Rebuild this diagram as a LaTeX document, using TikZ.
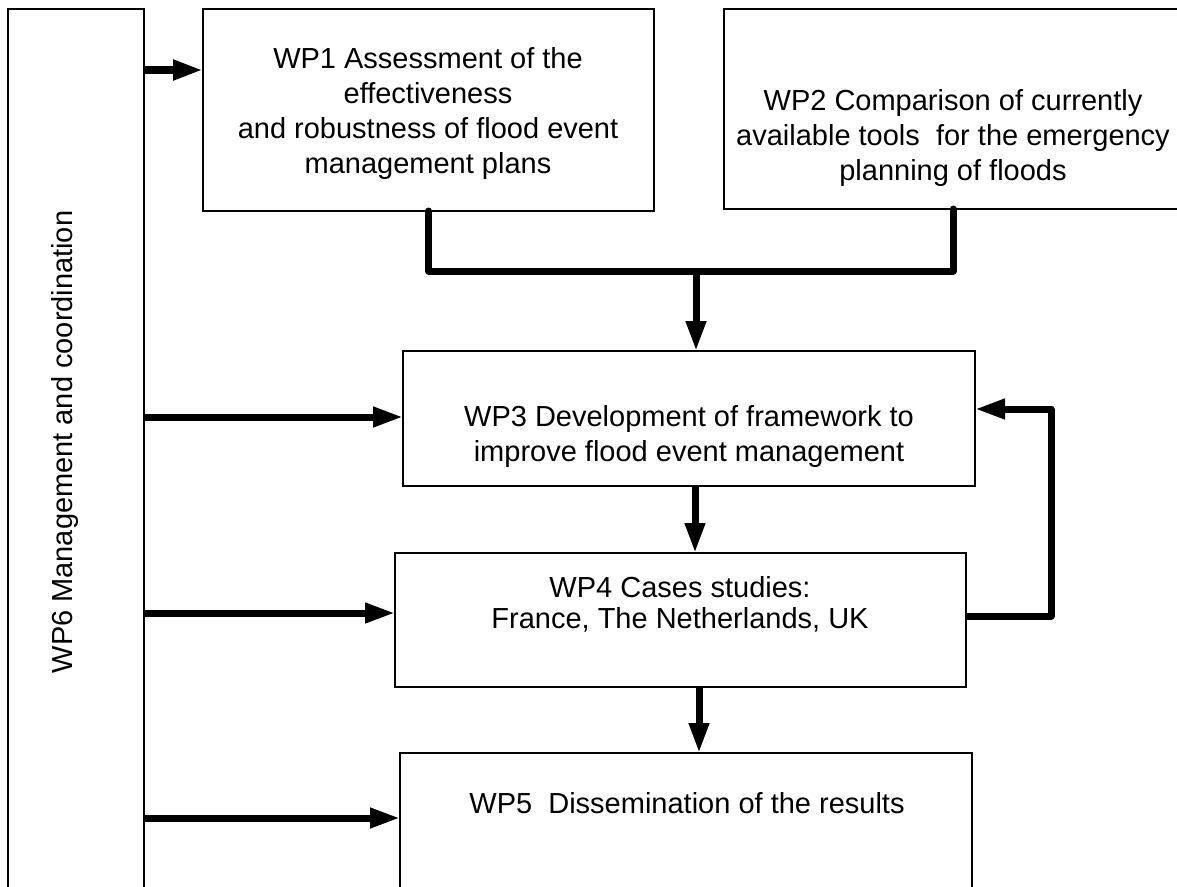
\documentclass[tikz,border=0pt]{standalone}
\usepackage{fontspec}
\setmainfont{Liberation Sans}
\usetikzlibrary{arrows.meta}
\begin{document}
\begin{tikzpicture}[x=1pt,y=-1pt,
  box/.style={draw, line width=2.2pt, inner sep=0pt, outer sep=0pt, anchor=north west},
  lbl/.style={anchor=base, inner sep=0pt, font=\fontsize{29}{35}\selectfont},
  arr/.style={line width=7pt, -{Triangle[length=30pt,width=19pt]}},
  conn/.style={line width=7pt, line cap=round, line join=round}]
\useasboundingbox (0,0) rectangle (1177,886);
\clip (0,0) rectangle (1177,886);
\fill[white] (0,0) rectangle (1177,886);

% boxes
\node[box, minimum width=136pt, minimum height=900pt] (wp6) at (8,9) {};
\node[box, minimum width=451pt, minimum height=202pt] (wp1) at (203,9) {};
\node[box, minimum width=470pt, minimum height=200pt] (wp2) at (724,9) {};
\node[box, minimum width=572pt, minimum height=135pt] (wp3) at (403,351) {};
\node[box, minimum width=571pt, minimum height=134pt] (wp4) at (395,553) {};
\node[box, minimum width=572pt, minimum height=160pt] (wp5) at (400,753) {};

% texts
\node[lbl] (t1a) at (428,68) {WP1 Assessment of the};
\node[lbl] (t1b) at (428,103) {effectiveness};
\node[lbl] (t1c) at (428,138) {and robustness of flood event};
\node[lbl] (t1d) at (428,173) {management plans};

\node[lbl] (t2a) at (953,110) {WP2 Comparison of currently};
\node[lbl] (t2b) at (953,145) {available tools\ \ for the emergency};
\node[lbl] (t2c) at (953,180) {planning of floods};

\node[lbl] (t3a) at (689,426) {WP3 Development of framework to};
\node[lbl] (t3b) at (689,461) {improve flood event management};

\node[lbl] (t4a) at (680,597) {WP4 Cases studies:};
\node[lbl] (t4b) at (680,628) {France, The Netherlands, UK};

\node[lbl] (t5) at (687,813) {WP5\ \ Dissemination of the results};

\node[lbl, rotate=90] (t6) at (72,442) {WP6 Management and coordination};

% helper coordinates
\coordinate (y1) at (0,70);
\coordinate (y3) at (0,417);
\coordinate (y4) at (0,613);
\coordinate (y5) at (0,818);
\coordinate (mL) at (428.5,271);
\coordinate (mR) at (953,271);
\coordinate (mC) at (696,271);
\coordinate (v34) at (695,0);
\coordinate (v45) at (699,0);
\coordinate (fb1) at (1051,616);
\coordinate (fb2) at (1051,409);

% connectors from WP6
\draw[arr, line width=8.5pt] (wp6.east |- y1) -- (wp1.west |- y1);
\draw[arr] (wp6.east |- y3) -- (wp3.west |- y3);
\draw[arr] (wp6.east |- y4) -- (wp4.west |- y4);
\draw[arr] (wp6.east |- y5) -- (wp5.west |- y5);

% merge WP1 + WP2 -> WP3
\draw[conn] (wp1.south) -- (mL) -- (mR) -- (mR |- wp2.south);
\draw[arr] (mC) -- (mC |- wp3.north);

% vertical flow
\draw[arr] (wp3.south -| v34) -- (wp4.north -| v34);
\draw[arr] (wp4.south -| v45) -- (wp5.north -| v45);

% feedback WP4 -> WP3
\draw[arr, line join=round] (wp4.east |- fb1) -- (fb1) -- (fb2) -- (wp3.east |- fb2);
\end{tikzpicture}
\end{document}
